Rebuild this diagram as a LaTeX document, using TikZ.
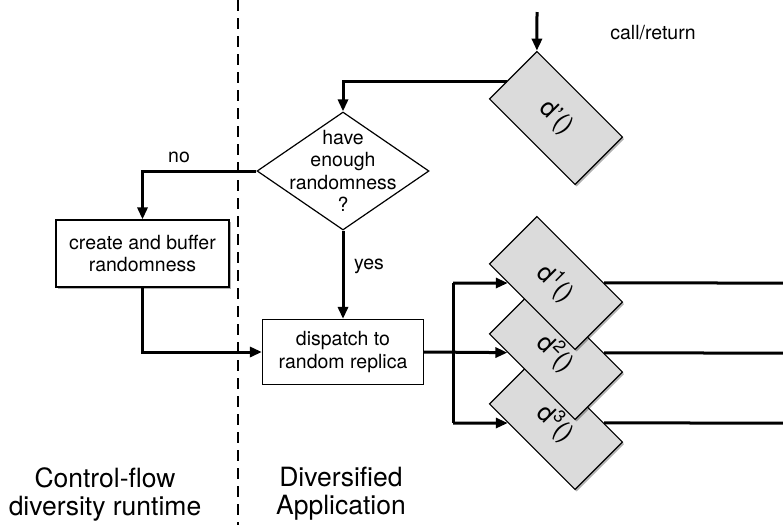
\documentclass[tikz,border=0pt]{standalone}
\usepackage{fontspec}
\setmainfont{TeX Gyre Heros}
\usetikzlibrary{arrows.meta,shapes.geometric,shadows}
\begin{document}
\begin{tikzpicture}[x=1pt,y=-1pt,
  txt/.style={font=\fontsize{19.5}{22.5}\selectfont, align=center, inner sep=0pt},
  big/.style={font=\fontsize{26.5}{28}\selectfont, align=center, inner sep=0pt},
  shad/.style={drop shadow={shadow xshift=1.5pt, shadow yshift=-2pt, opacity=0.3, fill=black}},
  box/.style={draw, line width=1.2pt, fill=white, txt},
  rep/.style={draw, line width=1.2pt, fill=gray!28, rotate=-45, minimum width=121pt,
    minimum height=67pt, inner sep=0pt, font=\fontsize{25}{27}\selectfont, shad},
  flow/.style={line width=3pt, -{Triangle[length=12pt,width=10pt]}},
  thk/.style={line width=3pt},
  sep/.style={line width=1.2pt, dash pattern=on 11pt off 7pt},
]
\useasboundingbox (0,0) rectangle (783,525);

% separator
\coordinate (septop) at (238,0);
\coordinate (sepbot) at (238,525);
\draw[sep] (septop) -- (sepbot);

% decision
\node[diamond, draw, line width=1.2pt, minimum width=172pt, minimum height=118pt, inner sep=0pt] (dia) at (343,171) {};
\node[txt] (diatext) at (dia.center) {have\\enough\\randomness\\?};

% boxes
\node[box, minimum width=173pt, minimum height=67pt, shad] (create) at (142.5,253.5) {create and buffer\\randomness};
\node[box, minimum width=161pt, minimum height=65pt] (disp) at (343,352) {dispatch to\\random replica};

% replicas
\node[rep] (dp) at (556,118) {d’()};
\node[rep] (d3) at (556,423) {d\textsuperscript{3}()};
\node[rep] (d2) at (556,353) {d\textsuperscript{2}()};
\node[rep] (d1) at (556,283) {d\textsuperscript{1}()};

% labels
\node[txt] (no) at (179,157) {no};
\node[txt] (yes) at (369,266) {yes};
\node[txt] (call) at (653,33) {call/return};
\node[big] (cfl) at (105,494) {Control-flow\\diversity runtime};
\node[big] (dapp) at (341,494) {Diversified\\Application};

% connectors
\coordinate (callin) at (537,12);
\draw[flow] (callin) -- (dp.north west);
\path (dp.north west) -- (dp.south west) coordinate[pos=0.63] (dpout);
\draw[flow] (dpout) -| (dia.north);
\draw[flow] (dia.west) -| (create.north);
\draw[flow] (dia.south) -- (disp.north);
\draw[flow] (create.south) |- (disp.west);

\coordinate (j1) at (453,283);
\coordinate (j3) at (453,423);
\draw[thk] (j1) -- (j3);
\draw[flow] (disp.east) -- (d2);
\draw[flow] (j1) -- (d1);
\draw[flow] (j3) -- (d3);

\coordinate (o1) at (783,283);
\coordinate (o2) at (783,353);
\coordinate (o3) at (783,423);
\draw[thk] (d1) -- (o1);
\draw[thk] (d2) -- (o2);
\draw[thk] (d3) -- (o3);
\end{tikzpicture}
\end{document}
